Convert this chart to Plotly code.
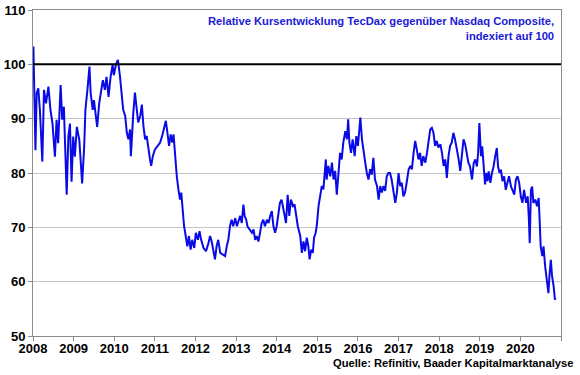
import plotly.graph_objects as go

# Relative performance TecDax vs Nasdaq Composite (indexed to 100)
years = [
    2008.01, 2008.02, 2008.04, 2008.06, 2008.09, 2008.13, 2008.17, 2008.23, 2008.27, 2008.32,
    2008.38, 2008.43, 2008.48, 2008.54, 2008.58, 2008.62, 2008.68, 2008.72, 2008.76, 2008.80,
    2008.83, 2008.87, 2008.91, 2008.95, 2008.99, 2009.03, 2009.08, 2009.14, 2009.17, 2009.21,
    2009.26, 2009.29, 2009.34, 2009.39, 2009.42, 2009.47, 2009.50, 2009.54, 2009.58, 2009.63,
    2009.67, 2009.72, 2009.77, 2009.81, 2009.86, 2009.91, 2009.96, 2009.99, 2010.04, 2010.09,
    # 2010 - 2012
    2010.14, 2010.18, 2010.22, 2010.27, 2010.31, 2010.35, 2010.39, 2010.41, 2010.44, 2010.47,
    2010.51, 2010.55, 2010.59, 2010.64, 2010.68, 2010.72, 2010.76, 2010.80, 2010.84, 2010.88,
    2010.91, 2010.95, 2011.00, 2011.06, 2011.13, 2011.19, 2011.23, 2011.27, 2011.31, 2011.35,
    2011.39, 2011.43, 2011.46, 2011.50, 2011.54, 2011.58, 2011.62, 2011.65, 2011.68, 2011.72,
    2011.76, 2011.80, 2011.84, 2011.88, 2011.92, 2011.97, 2012.01, 2012.06, 2012.10, 2012.14,
    2012.20, 2012.26, 2012.32,
    # 2012 - 2014
    2012.36, 2012.40, 2012.44, 2012.48, 2012.52, 2012.56, 2012.61, 2012.66, 2012.73, 2012.77,
    2012.81, 2012.85, 2012.89, 2012.93, 2012.98, 2013.02, 2013.06, 2013.10, 2013.14, 2013.18,
    2013.21, 2013.25, 2013.28, 2013.33, 2013.39, 2013.43, 2013.47, 2013.51, 2013.55, 2013.59,
    2013.63, 2013.67, 2013.71, 2013.76, 2013.80, 2013.84, 2013.88, 2013.92, 2013.96, 2014.00,
    2014.04, 2014.08, 2014.12, 2014.15, 2014.19, 2014.23, 2014.27, 2014.31, 2014.35, 2014.40,
    2014.44, 2014.48, 2014.52,
    # 2014 - 2016
    2014.58, 2014.62, 2014.66, 2014.70, 2014.74, 2014.78, 2014.81, 2014.85, 2014.89, 2014.92,
    2014.96, 2014.99, 2015.03, 2015.07, 2015.11, 2015.15, 2015.18, 2015.21, 2015.23, 2015.27,
    2015.32, 2015.36, 2015.40, 2015.44, 2015.48, 2015.52, 2015.56, 2015.60, 2015.64, 2015.69,
    2015.73, 2015.76, 2015.79, 2015.83, 2015.87, 2015.92, 2015.96, 2016.00, 2016.03, 2016.06,
    2016.10, 2016.14, 2016.18, 2016.22, 2016.26, 2016.30, 2016.34, 2016.38, 2016.42, 2016.47,
    2016.51, 2016.55, 2016.59, 2016.63, 2016.67, 2016.71, 2016.75,
    # 2016 - 2018
    2016.79, 2016.83, 2016.88, 2016.92, 2016.96, 2017.00, 2017.04, 2017.08, 2017.12, 2017.16,
    2017.20, 2017.25, 2017.29, 2017.33, 2017.37, 2017.41, 2017.45, 2017.49, 2017.53, 2017.57,
    2017.61, 2017.66, 2017.70, 2017.74, 2017.78, 2017.82, 2017.86, 2017.90, 2017.94, 2017.98,
    2018.03, 2018.07, 2018.11, 2018.15, 2018.19, 2018.23, 2018.27, 2018.31, 2018.35, 2018.39,
    2018.44, 2018.48, 2018.52, 2018.56, 2018.60, 2018.64, 2018.68, 2018.72,
    # 2018 - 2020
    2018.76, 2018.81, 2018.85, 2018.89, 2018.93, 2018.96, 2018.99, 2019.03, 2019.06, 2019.09,
    2019.13, 2019.16, 2019.19, 2019.22, 2019.26, 2019.30, 2019.34, 2019.38, 2019.42, 2019.45,
    2019.49, 2019.52, 2019.56, 2019.60, 2019.64, 2019.68, 2019.72, 2019.77, 2019.81, 2019.85,
    2019.89, 2019.93, 2019.97, 2020.01, 2020.05, 2020.09, 2020.14, 2020.18, 2020.21, 2020.23,
    2020.26, 2020.29, 2020.32, 2020.37, 2020.41, 2020.45, 2020.47, 2020.50, 2020.54, 2020.57,
    2020.61, 2020.65, 2020.69, 2020.72, 2020.75, 2020.78, 2020.82, 2020.85, 2020.87,
]

ratio = [
    103.3, 100.2, 95.3, 84.2, 94.7, 95.6, 91.6, 82.1, 95.3, 92.8,
    95.9, 91.6, 89.1, 83.0, 89.8, 85.5, 96.2, 89.8, 92.2, 84.2,
    76.0, 86.7, 89.1, 78.4, 86.7, 83.0, 88.5, 86.1, 83.0, 78.1,
    84.8, 91.6, 95.3, 99.6, 94.7, 91.6, 93.4, 90.4, 88.5, 92.8,
    94.7, 97.1, 95.3, 97.7, 94.0, 97.7, 99.9, 98.0, 99.9, 100.8,
    97.9, 94.8, 91.7, 90.5, 87.4, 86.2, 88.0, 83.1, 88.6, 91.1,
    94.8, 91.7, 89.3, 90.5, 92.6, 88.6, 86.2, 86.8, 84.3, 82.5,
    81.3, 83.1, 84.3, 85.0, 85.6, 87.1, 88.6, 89.6, 87.4, 85.0,
    87.1, 85.6, 87.1, 83.1, 79.4, 77.0, 75.1, 76.4, 73.3, 70.2,
    68.4, 66.5, 68.4, 65.9, 67.7, 66.2, 69.0, 67.7, 69.3, 67.7,
    66.2, 65.6, 67.1,
    68.4, 67.4, 65.3, 64.1, 66.5, 67.7, 65.3, 65.0, 64.7, 66.5,
    67.7, 70.2, 71.4, 70.2, 71.7, 70.2, 71.1, 72.1, 70.8, 74.2,
    72.1, 71.4, 70.2, 69.6, 69.0, 69.6, 67.7, 68.4, 67.4, 69.0,
    70.8, 71.4, 70.2, 71.4, 70.8, 72.1, 73.0, 70.2, 69.0, 70.2,
    72.7, 74.5, 75.1, 73.9, 72.7, 70.8, 76.0, 72.1, 75.1, 73.9,
    74.2, 72.1, 70.2,
    68.4, 65.3, 67.4, 65.6, 68.1, 66.5, 64.1, 65.9, 65.3, 68.1,
    69.0, 70.5, 73.9, 75.7, 77.6, 77.0, 79.4, 82.5, 78.8, 81.3,
    79.4, 81.9, 78.8, 80.4, 76.0, 80.7, 83.7, 82.5, 85.6, 87.7,
    86.2, 89.9, 85.6, 83.7, 86.2, 83.1, 86.8, 85.0, 87.4, 90.2,
    86.2, 83.7, 81.9, 80.0, 78.8, 80.7, 79.7, 82.8, 78.8, 77.6,
    75.1, 77.6, 76.4, 77.6, 76.7, 79.4, 80.0,
    80.0, 78.8, 76.4, 74.5, 76.4, 80.0, 77.6, 78.2, 75.7, 76.4,
    78.2, 80.7, 81.3, 80.7, 83.7, 85.9, 84.3, 82.5, 83.7, 81.3,
    83.1, 81.9, 83.7, 86.2, 88.0, 88.3, 87.4, 85.0, 85.9, 84.7,
    85.3, 83.7, 81.3, 82.5, 79.1, 83.1, 85.0, 85.6, 87.4, 86.2,
    84.3, 82.5, 80.4, 83.7, 86.2, 85.3, 83.7, 81.9,
    81.2, 78.8, 81.8, 82.5, 81.2, 83.7, 89.2, 83.1, 84.9, 82.5,
    77.9, 80.0, 78.5, 80.3, 78.2, 80.0, 81.2, 83.1, 84.6, 81.2,
    80.0, 80.6, 78.5, 79.4, 76.9, 78.2, 79.4, 77.5, 76.9, 76.0,
    78.8, 79.4, 78.2, 75.7, 74.5, 76.9, 74.5, 75.7, 71.4, 67.1,
    76.9, 77.5, 74.5, 75.1, 73.9, 75.4, 72.0, 66.5, 64.7, 66.5,
    62.8, 60.1, 57.9, 61.6, 64.0, 61.0, 59.1, 56.7, 57.0,
]

base_level = 100
x_range = [2008, 2021]
tick_years = list(range(2008, 2022))
tick_labels = [str(y) for y in range(2008, 2021)] + [""]
title_text = "Relative Kursentwicklung TecDax gegenüber Nasdaq Composite,<br>indexiert auf 100"
source_text = "Quelle: Refinitiv, Baader Kapitalmarktanalyse"

FONT = "Liberation Sans, Arial, sans-serif"

fig = go.Figure()
# base level (100) line, drawn on the tick-mark axis
fig.add_trace(go.Scatter(
    x=x_range, y=[base_level, base_level], mode="lines", xaxis="x2",
    line=dict(color="black", width=2), hoverinfo="skip", showlegend=False,
))
fig.add_trace(go.Scatter(
    x=years, y=ratio, mode="lines",
    line=dict(color="#0a0ae6", width=2),
    hoverinfo="skip", showlegend=False,
))

fig.update_layout(
    width=580, height=375,
    margin=dict(l=33, r=19, t=10, b=39, autoexpand=False),
    paper_bgcolor="white", plot_bgcolor="white",
    font=dict(family=FONT, size=13, color="black"),
    xaxis=dict(
        range=x_range, tickmode="array", tickvals=tick_years, ticktext=tick_labels,
        showgrid=False, showline=True, linecolor="#8c8c8c", linewidth=1, mirror=True,
        ticks="", automargin=False,
        tickfont=dict(family=FONT, size=13, color="black", weight="bold"),
        zeroline=False,
    ),
    xaxis2=dict(
        range=x_range, overlaying="x", side="bottom", tickmode="array",
        tickvals=tick_years, showticklabels=False, showgrid=False, showline=False,
        ticks="outside", ticklen=4, tickcolor="#8c8c8c", automargin=False, zeroline=False,
    ),
    yaxis=dict(
        range=[50, 110], dtick=10, tick0=50,
        showgrid=True, gridcolor="#c4c4c4", gridwidth=1,
        showline=True, linecolor="#8c8c8c", linewidth=1, mirror=True,
        ticks="outside", ticklen=4, tickcolor="#8c8c8c", automargin=False,
        tickfont=dict(family=FONT, size=13, color="black", weight="bold"),
        zeroline=False,
    ),
)
fig.add_annotation(
    text=title_text, xref="paper", yref="paper", x=0.99, y=0.99,
    xanchor="right", yanchor="top", align="right", showarrow=False,
    font=dict(family=FONT, size=11.2, color="#1a1ad6", weight="bold"),
)
fig.add_annotation(
    text=source_text, xref="paper", yref="paper", x=1.0, y=0,
    xanchor="right", yanchor="top", yshift=-19, xshift=14, showarrow=False,
    font=dict(family=FONT, size=11.2, color="black", weight="bold"),
)

fig.write_html("out.html", config={"displayModeBar": False},
               post_script="document.body.style.margin='0px';")
